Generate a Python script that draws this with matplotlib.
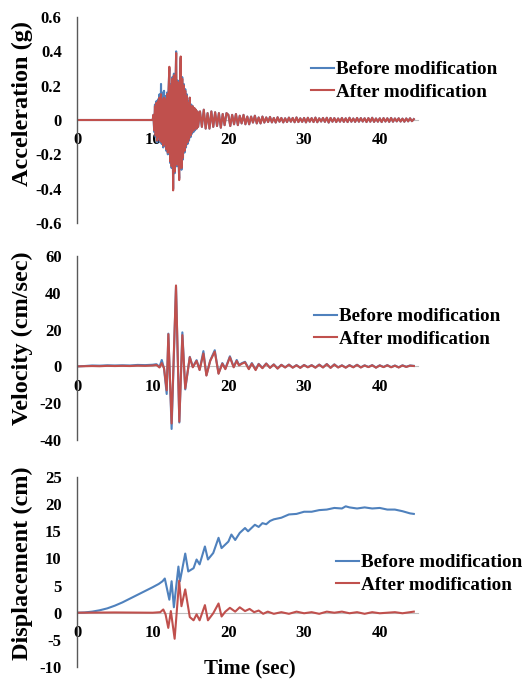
import numpy as np
import matplotlib
matplotlib.use("Agg")
import matplotlib.pyplot as plt

plt.rcParams['font.family'] = ['Liberation Serif', 'DejaVu Serif']
plt.rcParams['font.weight'] = 'bold'

BLUE = '#4F81BD'
RED = '#C0504D'
series_names = ['Before modification', 'After modification']

# ---------------- acceleration record (g) ----------------
accel_quiet_time = [0.0, 10.0]
accel_quiet = [0.0, 0.0]

accel_burst_start, accel_burst_dt = 10.0, 0.1
accel_burst_after = [
    0.00, 0.03, -0.06, 0.08, -0.09, 0.10, -0.12, 0.11, -0.10, 0.13,
    -0.12, 0.15, -0.13, 0.12, -0.15, 0.13, -0.14, 0.12, -0.17, 0.15,
    -0.19, 0.17, 0.31, -0.24, 0.20, -0.27, 0.24, -0.41, 0.26, -0.30,
    0.15, 0.39, -0.26, 0.22, -0.18, -0.35, 0.20, 0.37, -0.28, 0.24,
    -0.22, 0.20, -0.18, 0.17, -0.15, 0.14, -0.13, 0.10, -0.11, 0.13,
    -0.09, 0.08, -0.07, 0.08, -0.06, 0.07, -0.05, 0.06, -0.05, 0.05, -0.04,
]
accel_burst_before = [
    0.00, 0.03, -0.07, 0.09, -0.10, 0.11, -0.13, 0.12, -0.11, 0.15,
    -0.13, 0.21, -0.14, 0.16, -0.16, 0.17, -0.15, 0.14, -0.18, 0.16,
    -0.20, 0.18, 0.30, -0.25, 0.21, -0.28, 0.25, -0.40, 0.27, -0.31,
    0.16, 0.40, -0.27, 0.23, -0.19, -0.34, 0.21, 0.36, -0.29, 0.25,
    -0.23, 0.21, -0.19, 0.18, -0.16, 0.15, -0.14, 0.11, -0.12, 0.13,
    -0.10, 0.09, -0.08, 0.08, -0.07, 0.07, -0.06, 0.06, -0.05, 0.05, -0.04,
]

accel_tail_start, accel_tail_dt = 16.25, 0.25
accel_tail = [
    0.05, -0.04, 0.06, -0.05, 0.04, -0.05, 0.05, -0.04, 0.045, -0.035,
    0.04, -0.045, 0.035, -0.03, 0.04,
    0.03, -0.035, 0.03, -0.025, 0.035, -0.03, 0.025, -0.02, 0.03, -0.025,
    0.02, -0.025, 0.02, -0.015, 0.025, -0.02, 0.015, -0.02, 0.02, -0.015,
    0.015, -0.012, 0.018, -0.014, 0.012, -0.015, 0.016, -0.01, 0.012, -0.014,
    0.01, -0.012, 0.014, -0.01, 0.012, -0.013, 0.015, -0.012, 0.01, -0.011,
    0.012, -0.014, 0.013, -0.01, 0.011, -0.012, 0.014, -0.013, 0.01, -0.009,
    0.012, -0.011, 0.013, -0.015, 0.012, -0.01, 0.011, -0.012, 0.009, -0.01,
    0.012, -0.011, 0.01, -0.012, 0.013, -0.01, 0.009, -0.011, 0.012, -0.01,
    0.011, -0.009, 0.01, -0.012, 0.011, -0.01, 0.013, -0.011, 0.009, -0.01,
    0.01, -0.012, 0.011, -0.009, 0.01, -0.011, 0.012, -0.01, 0.009, -0.008,
    0.01, -0.009, 0.008, -0.01, 0.009, -0.008, 0.01, -0.007, 0.005,
]

# ---------------- velocity record (cm/sec) ----------------
vel_time = [
    0.0, 1.0, 2.0, 3.0, 4.0, 5.0, 6.0, 7.0, 8.0, 9.0, 10.0,
    10.5, 10.9, 11.2, 11.5, 11.85, 12.07, 12.5, 13.08, 13.52, 13.92,
    14.3, 14.9, 15.3, 15.8, 16.2, 16.7, 17.1, 17.6, 18.2, 18.7,
    19.2, 19.6, 20.2, 20.7, 21.1, 21.4, 21.8, 22.2, 22.7, 23.1,
    23.6, 24.0, 24.5,
    25.0, 25.5, 26.0, 26.5, 27.0, 27.5, 28.0, 28.5, 29.0, 29.5,
    30.0, 30.5, 31.0, 31.5, 32.0, 32.5, 33.0, 33.5, 34.0, 34.5,
    35.0, 35.5, 36.0, 36.5, 37.0, 37.5, 38.0, 38.5, 39.0, 39.5,
    40.0, 40.5, 41.0, 41.5, 42.0, 42.5, 43.0, 43.5, 44.0, 44.5,
]
vel_after = [
    0.0, 0.1, 0.2, 0.1, 0.3, 0.2, 0.3, 0.2, 0.4, 0.3, 0.5,
    0.8, -0.6, 1.8, -1.0, -13.0, 17.5, -31.0, 44.0, -30.0, 17.0,
    -12.0, 5.0, -0.5, 3.0, -2.0, 7.0, -5.0, 3.0, 8.0, -4.0,
    1.5, -1.5, 5.0, -0.5, 3.0, 0.5, 1.5, 2.2, -1.5, 1.5,
    -2.0, 1.2, -1.0,
    1.5, -0.8, 1.0, -1.2, 0.8, -0.6, 0.9, -0.7, 0.6, -0.8,
    0.7, -0.5, 0.6, -0.7, 0.9, -0.6, 1.2, -0.8, 1.0, -0.6,
    0.5, -0.7, 0.6, -0.5, 0.8, -0.6, 0.5, -0.4, 0.6, -0.7,
    0.5, -0.4, 0.6, -0.5, 0.4, -0.6, 0.5, -0.3, 0.4, 0.2,
]
vel_before = [
    0.0, 0.2, 0.5, 0.4, 0.6, 0.5, 0.6, 0.5, 0.8, 0.7, 0.9,
    1.2, -0.3, 3.5, -1.2, -15.0, 17.8, -34.0, 43.5, -30.5, 18.5,
    -12.5, 5.2, -0.3, 3.4, -1.8, 8.3, -4.8, 3.2, 8.8, -3.8,
    1.8, -1.2, 5.5, -0.3, 3.5, 0.8, 1.8, 2.5, -1.2, 1.8,
    -1.7, 1.4, -0.8,
    1.6, -0.7, 1.1, -1.1, 0.9, -0.5, 1.0, -0.6, 0.7, -0.7,
    0.8, -0.4, 0.7, -0.6, 1.0, -0.5, 1.3, -0.7, 1.1, -0.5,
    0.6, -0.6, 0.7, -0.4, 0.9, -0.5, 0.6, -0.3, 0.7, -0.6,
    0.6, -0.3, 0.7, -0.4, 0.5, -0.5, 0.6, -0.2, 0.5, 0.3,
]

# ---------------- displacement record (cm) ----------------
disp_before_time = [
    0, 1, 2, 3, 4, 5, 6, 7, 8, 9, 10,
    10.8, 11.3, 11.6, 12.2, 12.5, 12.8, 13.4, 13.6, 14.3, 14.7,
    15.4, 15.8, 16.2, 16.9, 17.3, 18.0, 18.7, 19.1, 20.0, 20.4,
    20.9, 21.5, 22.2, 22.6, 23.5, 24.0, 24.5, 25.0, 25.5,
    26, 27, 28, 29, 30, 31, 32, 33, 34, 35,
    35.5, 36, 37, 38, 39, 40, 41, 42, 43,
    43.5, 44, 44.5,
]
disp_before = [
    0.0, 0.05, 0.2, 0.45, 0.8, 1.3, 1.9, 2.6, 3.3, 4.0, 4.7,
    5.3, 5.8, 6.3, 2.4, 5.8, 1.0, 8.5, 5.8, 10.9, 7.6,
    8.2, 9.8, 8.9, 12.2, 9.8, 11.0, 13.8, 11.9, 13.1, 14.4,
    13.4, 14.7, 15.6, 15.0, 16.2, 15.8, 16.5, 16.3, 16.9,
    17.2, 17.5, 18.1, 18.2, 18.6, 18.6, 18.9, 19.0, 19.3, 19.2,
    19.6, 19.4, 19.2, 19.4, 19.2, 19.3, 19.0, 19.0, 18.7,
    18.5, 18.3, 18.2,
]
disp_after_time = [
    0, 5, 10,
    11.0, 11.4, 11.7, 12.06, 12.4, 12.9, 13.5, 13.8, 14.3, 14.9,
    15.4, 15.8, 16.2, 16.9, 17.3, 18.0, 18.7, 19.1, 19.6, 20.2,
    20.9, 21.5, 22.2, 22.8, 23.4, 24.0, 24.6, 25.2,
    26, 27, 28, 29, 30, 31, 32, 33, 34, 35, 36, 37, 38, 39, 40, 41, 42, 43, 44,
    44.5,
]
disp_after = [
    0.0, 0.05, 0.0,
    0.1, 0.6, -0.3, -2.8, 0.3, -4.8, 5.9, 1.2, 4.3, -0.8,
    -1.4, -0.3, -1.4, 1.4, -1.4, -0.1, 1.7, -0.7, 0.2, 0.9,
    0.2, 1.0, 0.3, 0.7, 0.1, 0.4, -0.2, 0.2,
    -0.2, 0.1, -0.2, 0.2, -0.1, 0.1, -0.2, 0.2, 0.0, 0.2,
    -0.1, 0.1, -0.2, 0.1, -0.1, 0.0, 0.1, -0.1, 0.1,
    0.2,
]

# ---------------- axis ticks ----------------
x_ticks = [0, 10, 20, 30, 40]
accel_ticks = [0.6, 0.4, 0.2, 0, -0.2, -0.4, -0.6]
accel_ticklabels = ['0.6', '0.4', '0.2', '0', '-0.2', '-0.4', '-0.6']
vel_ticks = [60, 40, 20, 0, -20, -40]
disp_ticks = [25, 20, 15, 10, 5, 0, -5, -10]


def sampled(start, dt, values):
    return start + dt * np.arange(len(values)), np.asarray(values)


t_b, a_burst_after = sampled(accel_burst_start, accel_burst_dt, accel_burst_after)
_, a_burst_before = sampled(accel_burst_start, accel_burst_dt, accel_burst_before)
t_t, a_tail = sampled(accel_tail_start, accel_tail_dt, accel_tail)

acc_time = np.concatenate([accel_quiet_time, t_b[1:], t_t])
acc_before = np.concatenate([accel_quiet, a_burst_before[1:], a_tail])
acc_after = np.concatenate([accel_quiet, a_burst_after[1:], a_tail])

W, H = 524, 682
fig = plt.figure(figsize=(W / 100, H / 100), dpi=100)


def box(left, top, right, bottom):
    return [left / W, 1 - bottom / H, (right - left) / W, (bottom - top) / H]


def style(ax, yticks, ylabels, ylim):
    ax.set_xlim(0, 45)
    ax.set_ylim(*ylim)
    for s in ('top', 'right'):
        ax.spines[s].set_visible(False)
    ax.spines['left'].set_color('#595959')
    ax.spines['left'].set_linewidth(1.0)
    ax.spines['bottom'].set_position(('data', 0))
    ax.spines['bottom'].set_color('#bfbfbf')
    ax.spines['bottom'].set_linewidth(0.8)
    ax.spines['bottom'].set_zorder(0.5)
    ax.set_xticks(x_ticks)
    ax.set_xticklabels([str(v) for v in x_ticks])
    ax.set_yticks(yticks)
    ax.set_yticklabels(ylabels)
    ax.tick_params(axis='both', length=0, labelsize=12)
    ax.tick_params(axis='y', pad=11)
    ax.tick_params(axis='x', pad=9)
    ax.patch.set_visible(False)


def legend(ax, x_px, y_px):
    ax.legend(series_names, loc='upper left',
              bbox_to_anchor=(x_px / W, 1 - y_px / H),
              bbox_transform=fig.transFigure, frameon=False,
              fontsize=13.8, handlelength=1.2, handletextpad=0.1,
              borderpad=0, borderaxespad=0, labelspacing=0.25)


LW = 1.5
LABEL_SIZE = 17.5

# Acceleration
ax1 = fig.add_axes(box(77, 17, 417.6, 223))
ax1.plot(acc_time, acc_before, color=BLUE, lw=LW)
ax1.plot(acc_time, acc_after, color=RED, lw=LW)
style(ax1, accel_ticks, accel_ticklabels, (-0.6, 0.6))
legend(ax1, 311, 61)
fig.text(22 / W, 1 - 103 / H, 'Acceleration (g)', rotation=90,
         ha='center', va='center', fontsize=LABEL_SIZE, fontweight='bold')

# Velocity
ax2 = fig.add_axes(box(77, 256, 417.6, 440))
ax2.plot(vel_time, vel_before, color=BLUE, lw=LW)
ax2.plot(vel_time, vel_after, color=RED, lw=LW)
style(ax2, vel_ticks, [str(v) for v in vel_ticks], (-40, 60))
legend(ax2, 314, 308)
fig.text(22 / W, 1 - 338 / H, 'Velocity (cm/sec)', rotation=90,
         ha='center', va='center', fontsize=LABEL_SIZE, fontweight='bold')

# Displacement
ax3 = fig.add_axes(box(77, 477, 417.6, 667))
ax3.plot(disp_before_time, disp_before, color=BLUE, lw=LW)
ax3.plot(disp_after_time, disp_after, color=RED, lw=LW)
style(ax3, disp_ticks, [str(v) for v in disp_ticks], (-10, 25))
legend(ax3, 336, 554)
fig.text(22 / W, 1 - 563 / H, 'Displacement (cm)', rotation=90,
         ha='center', va='center', fontsize=LABEL_SIZE, fontweight='bold')
fig.text(250 / W, 1 - 668 / H, 'Time (sec)', ha='center', va='center',
         fontsize=15, fontweight='bold')

fig.savefig('out.png', dpi=100, facecolor='white')
